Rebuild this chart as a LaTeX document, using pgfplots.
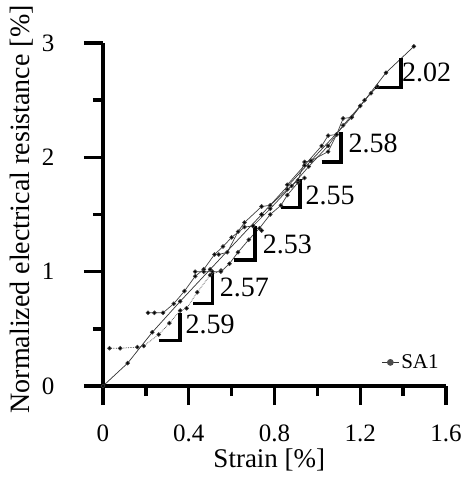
\documentclass[border=0pt]{standalone}
\usepackage{fontspec}
\setmainfont{Liberation Serif}
\usepackage{pgfplots}
\pgfplotsset{compat=1.18}
\begin{document}
\begin{tikzpicture}
\useasboundingbox (-103pt,-93pt) rectangle (366pt,386pt);
\begin{axis}[
  at={(0,0)}, anchor=south west,
  scale only axis, width=343pt, height=343pt,
  xmin=0, xmax=1.6, ymin=0, ymax=3,
  axis lines=left, axis line style={line width=3.5pt, -},
  xtick={0,0.4,0.8,1.2,1.6}, minor xtick={0.2,0.6,1.0,1.4},
  ytick={0,1,2,3}, minor ytick={0.5,1.5,2.5},
  xtick align=outside, ytick align=outside,
  major tick length=19pt, minor tick length=10pt,
  every tick/.style={line width=3.5pt, black},
  tick label style={font=\fontsize{25}{29}\selectfont},
  /pgf/number format/assume math mode=true,
  xticklabels={0,0.4,0.8,1.2,1.6},
  yticklabels={0,1,2,3},
  xticklabel style={yshift=-16pt},
  yticklabel style={xshift=-26pt},
  every axis x label/.style={at={(rel axis cs:0.485,0)}, yshift=-74pt, anchor=center, font=\fontsize{27}{31}\selectfont},
  every axis y label/.style={at={(rel axis cs:0,0.515)}, xshift=-81pt, rotate=90, anchor=center, font=\fontsize{28}{32}\selectfont},
  xlabel={Strain [\%]}, ylabel={Normalized electrical resistance [\%]},
  clip=false,
  legend style={draw=none, fill=none, at={(rel axis cs:0.985,0.04)}, anchor=south east,
    font=\fontsize{21}{25}\selectfont, inner sep=0pt},
  legend cell align=left,
  legend image code/.code={\draw[line width=0.8pt] (0pt,0pt) -- (0.6cm,0pt);
    \fill[gray!60!black] (0.3cm,0pt) circle (3pt);},
]
\addplot[black!80, line width=0.7pt, mark=*, mark size=1.9pt, mark options={fill=black}]
  coordinates {(0,0) (0.115,0.20) (0.23,0.47) (0.36,0.74) (0.50,1.02) (0.74,1.50) (0.97,1.97) (1.16,2.35) (1.32,2.74) (1.45,2.97)};
\addlegendentry{SA1}
\addplot[black!75, line width=0.7pt, densely dotted, mark=*, mark size=1.9pt, mark options={solid, fill=black}, forget plot]
  coordinates {(0.03,0.33) (0.08,0.33) (0.16,0.34) (0.19,0.35) (0.26,0.45) (0.31,0.55) (0.36,0.66) (0.39,0.68) (0.44,0.82) (0.50,0.97) (0.55,1.01)};
\addplot[black!75, line width=0.7pt, mark=*, mark size=1.9pt, mark options={solid, fill=black}, forget plot]
  coordinates {(0.21,0.64) (0.24,0.64) (0.28,0.64) (0.33,0.72) (0.38,0.83) (0.43,0.96) (0.47,1.02) (0.52,1.15) (0.56,1.22) (0.60,1.30) (0.66,1.39) (0.70,1.40) (0.74,1.36)};
\addplot[black!75, line width=0.7pt, mark=*, mark size=1.9pt, mark options={solid, fill=black}, forget plot]
  coordinates {(0.43,1.0) (0.47,1.0) (0.51,1.0) (0.55,1.0) (0.59,1.07) (0.63,1.17) (0.68,1.28) (0.73,1.38) (0.78,1.50) (0.83,1.58) (0.86,1.67) (0.91,1.78) (0.94,1.82)};
\addplot[black!75, line width=0.7pt, mark=*, mark size=1.9pt, mark options={solid, fill=black}, forget plot]
  coordinates {(0.54,1.15) (0.58,1.17) (0.63,1.35) (0.66,1.43) (0.74,1.57) (0.78,1.58) (0.86,1.72) (0.91,1.80) (0.94,1.96) (0.97,1.97) (1.05,2.05) (1.09,2.20)};
\addplot[black!75, line width=0.7pt, mark=*, mark size=1.9pt, mark options={solid, fill=black}, forget plot]
  coordinates {(0.86,1.76) (0.94,1.93) (1.02,2.10) (1.05,2.19) (1.09,2.20) (1.12,2.34) (1.16,2.35) (1.22,2.50) (1.25,2.56) (1.28,2.62)};
\addplot[black!75, line width=0.7pt, mark=*, mark size=1.9pt, mark options={solid, fill=black}, forget plot]
  coordinates {(0.70,1.40) (0.78,1.55) (0.88,1.75) (0.96,1.92) (1.05,2.10) (1.12,2.28) (1.20,2.45)};
% slope triangles
\draw[line width=3.5pt] (axis cs:0.26,0.40) -- (axis cs:0.36,0.40) -- (axis cs:0.36,0.64);
\draw[line width=3.5pt] (axis cs:0.42,0.72) -- (axis cs:0.51,0.72) -- (axis cs:0.51,1.00);
\draw[line width=3.5pt] (axis cs:0.61,1.10) -- (axis cs:0.71,1.10) -- (axis cs:0.71,1.40);
\draw[line width=3.5pt] (axis cs:0.83,1.56) -- (axis cs:0.92,1.56) -- (axis cs:0.92,1.81);
\draw[line width=3.5pt] (axis cs:1.02,1.96) -- (axis cs:1.11,1.96) -- (axis cs:1.11,2.22);
\draw[line width=3.5pt] (axis cs:1.27,2.61) -- (axis cs:1.39,2.61) -- (axis cs:1.39,2.87);
\begin{scope}[every node/.style={font=\fontsize{28}{32}\selectfont, anchor=west, inner sep=1pt}]
\node at (axis cs:0.38,0.54) {2.59};
\node at (axis cs:0.54,0.86) {2.57};
\node at (axis cs:0.74,1.24) {2.53};
\node at (axis cs:0.94,1.67) {2.55};
\node at (axis cs:1.14,2.12) {2.58};
\node at (axis cs:1.39,2.74) {2.02};
\end{scope}
\end{axis}
\end{tikzpicture}
\end{document}
